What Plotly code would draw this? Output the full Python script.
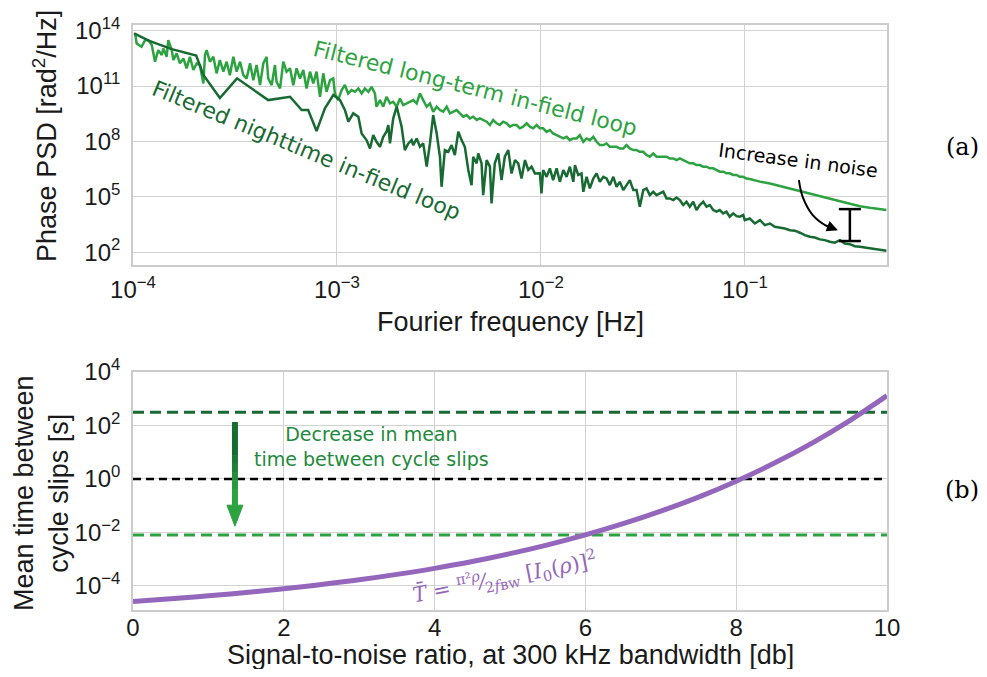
import plotly.graph_objects as go

# ---------------- data ----------------
# Panel (a): log10 of Fourier frequency [Hz] and log10 of phase PSD [rad^2/Hz]
longterm_log_freq = [
    -3.990, -3.982, -3.958, -3.941, -3.925, -3.908, -3.892, -3.876, -3.859, -3.851,
    -3.835, -3.827, -3.810, -3.802, -3.786, -3.770, -3.753, -3.737, -3.721, -3.704,
    -3.688, -3.672, -3.655, -3.647, -3.639, -3.623, -3.606, -3.590, -3.574, -3.557,
    -3.541, -3.525, -3.508, -3.492, -3.475, -3.459, -3.443, -3.426, -3.410, -3.394,
    -3.377, -3.361, -3.345, -3.337, -3.320, -3.304, -3.296, -3.279, -3.263, -3.247,
    -3.230, -3.214, -3.198, -3.181, -3.165, -3.149, -3.132, -3.116, -3.100, -3.083,
    -3.067, -3.051, -3.034, -3.018,
    -3.010, -2.994, -2.977, -2.961, -2.945, -2.928, -2.912, -2.895, -2.879, -2.863,
    -2.846, -2.830, -2.814, -2.806, -2.789, -2.773, -2.757, -2.740, -2.724, -2.707,
    -2.691, -2.675, -2.658, -2.642, -2.626, -2.609, -2.593, -2.577, -2.560, -2.544,
    -2.528, -2.511, -2.495, -2.479, -2.462, -2.446, -2.430, -2.413, -2.397, -2.381,
    -2.364, -2.348, -2.332, -2.315, -2.299, -2.283, -2.266, -2.250, -2.234, -2.217,
    -2.201, -2.185, -2.168, -2.152, -2.136, -2.119, -2.103, -2.087, -2.070, -2.054,
    -2.038, -2.021, -2.005,
    -1.989, -1.972, -1.956, -1.940, -1.923, -1.907, -1.890, -1.874, -1.858, -1.841,
    -1.825, -1.809, -1.792, -1.776, -1.760, -1.743, -1.727, -1.711, -1.694, -1.678,
    -1.662, -1.645, -1.629, -1.613, -1.596, -1.580, -1.564, -1.547, -1.531, -1.515,
    -1.498, -1.482, -1.466, -1.449, -1.433, -1.417, -1.400, -1.384, -1.368, -1.351,
    -1.335, -1.319, -1.302, -1.286, -1.270, -1.253, -1.237, -1.221, -1.204, -1.188,
    -1.172, -1.155, -1.139, -1.123, -1.106, -1.090, -1.074, -1.057, -1.041, -1.025,
    -1.008, -0.992, -0.976, -0.951,
    -0.926, -0.877, -0.828, -0.779, -0.730, -0.681, -0.632, -0.583, -0.534, -0.485,
    -0.436, -0.387, -0.338, -0.306,
]
longterm_log_psd = [
    13.86, 13.31, 13.13, 13.49, 13.49, 13.22, 12.32, 12.95, 12.68, 13.04,
    12.59, 13.49, 12.95, 12.41, 12.77, 12.23, 12.50, 11.96, 12.59, 11.87,
    12.23, 12.14, 11.14, 12.68, 12.95, 12.32, 12.59, 11.69, 12.41, 11.78,
    12.32, 11.59, 12.59, 11.78, 12.32, 11.59, 11.41, 12.23, 11.32, 12.14,
    11.05, 12.23, 12.59, 11.41, 11.05, 12.14, 11.23, 10.87, 12.32, 11.78,
    11.96, 11.05, 11.96, 11.41, 11.87, 10.87, 11.78, 11.14, 11.78, 10.42,
    11.69, 10.69, 11.32, 11.41,
    10.60, 10.24, 10.78, 11.06, 10.60, 10.78, 10.69, 10.87, 10.60, 10.87,
    10.69, 10.96, 10.60, 9.88, 10.24, 9.88, 10.42, 10.06, 10.15, 9.88,
    10.33, 9.97, 10.06, 10.15, 10.24, 10.06, 10.60, 10.24, 9.88, 10.06,
    9.61, 9.88, 9.70, 9.61, 9.88, 9.52, 9.61, 9.70, 9.52, 9.34,
    9.43, 9.25, 9.34, 9.16, 9.25, 9.16, 9.07, 8.89, 9.16, 8.98,
    8.89, 9.07, 8.98, 8.80, 8.89, 8.89, 8.71, 8.80, 8.98, 8.80,
    8.71, 8.89, 8.71,
    8.71, 8.52, 8.62, 8.43, 8.34, 8.25, 8.16, 8.25, 8.07, 8.16,
    8.16, 8.34, 7.98, 8.16, 8.07, 8.25, 7.98, 7.80, 7.80, 7.89,
    7.71, 7.71, 7.71, 7.62, 7.62, 7.80, 7.62, 7.53, 7.53, 7.44,
    7.44, 7.26, 7.17, 7.35, 7.17, 7.17, 7.17, 7.17, 7.08, 7.08,
    6.99, 7.08, 6.99, 6.90, 6.81, 6.81, 6.72, 6.72, 6.63, 6.63,
    6.54, 6.54, 6.45, 6.36, 6.36, 6.27, 6.27, 6.18, 6.18, 6.08,
    6.08, 5.99, 5.96, 5.87,
    5.82, 5.72, 5.58, 5.45, 5.32, 5.18, 5.04, 4.89, 4.73, 4.60,
    4.49, 4.40, 4.33, 4.28,
]

nighttime_log_freq = [
    -3.995, -3.920, -3.810, -3.690, -3.655, -3.574, -3.490, -3.418, -3.337, -3.230,
    -3.173, -3.141, -3.100, -3.059, -3.018,
    -2.985, -2.961, -2.944, -2.920, -2.895, -2.879, -2.855, -2.838, -2.822, -2.806,
    -2.789, -2.773, -2.757, -2.748, -2.740, -2.724, -2.707, -2.699, -2.683, -2.667,
    -2.650, -2.634, -2.626, -2.609, -2.593, -2.577, -2.560, -2.544, -2.528, -2.511,
    -2.495, -2.487, -2.471, -2.454, -2.438, -2.422, -2.405, -2.389, -2.373, -2.356,
    -2.340, -2.332, -2.315, -2.307, -2.291, -2.283, -2.266, -2.250, -2.242, -2.226,
    -2.209, -2.193, -2.177, -2.160, -2.144, -2.127, -2.111, -2.095, -2.078, -2.062,
    -2.046, -2.029,
    -2.005, -1.997, -1.989, -1.972, -1.956, -1.940, -1.923, -1.907, -1.890, -1.874,
    -1.858, -1.841, -1.833, -1.817, -1.801, -1.792, -1.776, -1.760, -1.743, -1.727,
    -1.711, -1.694, -1.678, -1.662, -1.645, -1.629, -1.613, -1.596, -1.580, -1.564,
    -1.547, -1.531, -1.515, -1.498, -1.482, -1.466, -1.449, -1.433, -1.417, -1.400,
    -1.384, -1.368, -1.351, -1.335, -1.319, -1.302, -1.286, -1.270, -1.253, -1.237,
    -1.221, -1.204, -1.188, -1.172, -1.155, -1.139, -1.123, -1.106, -1.090, -1.074,
    -1.057, -1.041, -1.025, -1.008,
    -1.000, -0.976, -0.951, -0.926, -0.902, -0.877, -0.853, -0.828, -0.804, -0.779,
    -0.755, -0.730, -0.706, -0.681, -0.657, -0.632, -0.608, -0.583, -0.559, -0.534,
    -0.510, -0.485, -0.461, -0.436, -0.412, -0.387, -0.363, -0.338, -0.306,
]
nighttime_log_psd = [
    13.86, 13.45, 13.00, 12.65, 11.60, 10.35, 11.42, 10.87, 10.24, 10.42,
    9.70, 9.70, 8.56, 9.79, 10.51,
    10.24, 9.70, 9.07, 9.52, 9.34, 8.43, 8.07, 7.62, 8.34, 7.98,
    7.71, 8.25, 8.53, 8.89, 7.89, 9.25, 9.88, 9.52, 8.80, 7.53,
    7.89, 8.07, 7.80, 8.16, 7.71, 7.89, 6.63, 7.89, 9.43, 8.43,
    7.17, 5.54, 7.53, 7.44, 7.80, 7.26, 8.53, 8.07, 7.71, 6.45,
    5.63, 7.17, 6.81, 7.35, 6.81, 5.09, 6.99, 6.63, 4.64, 6.81,
    7.35, 5.90, 7.17, 7.53, 6.26, 6.99, 6.81, 5.99, 6.99, 6.45,
    6.63, 6.26,
    6.27, 5.18, 6.45, 6.08, 6.54, 5.90, 6.54, 5.81, 6.45, 6.08,
    6.63, 5.81, 6.72, 6.18, 6.27, 5.27, 6.08, 5.45, 5.99, 6.27,
    5.81, 6.08, 5.99, 5.63, 6.08, 5.54, 5.81, 5.36, 5.63, 5.90,
    5.36, 5.36, 4.46, 5.36, 5.45, 5.09, 5.27, 5.09, 5.18, 5.27,
    4.91, 4.91, 4.82, 4.96, 4.82, 4.55, 4.73, 4.46, 4.73, 4.28,
    4.55, 4.73, 4.46, 4.55, 4.28, 4.19, 4.28, 4.10, 4.19, 3.92,
    4.10, 3.95, 3.92, 4.01,
    3.73, 3.82, 3.55, 3.73, 3.46, 3.55, 3.37, 3.34, 3.28, 3.19,
    3.16, 3.05, 2.92, 2.83, 2.79, 2.69, 2.65, 2.56, 2.51, 2.65,
    2.47, 2.43, 2.32, 2.29, 2.25, 2.20, 2.14, 2.11, 2.07,
]

# Panel (b): mean time between cycle slips vs SNR
snr_db = [0, 0.5, 1, 1.5, 2, 2.5, 3, 3.5, 4, 4.5, 5, 5.5, 6, 6.5, 7, 7.5, 8, 8.5, 9, 9.5, 10]
mean_time_s = [2.64e-5, 3.35e-5, 4.28e-5, 5.7e-5, 7.84e-5, 1.13e-4, 1.69e-4, 2.7e-4, 4.55e-4,
               8.2e-4, 1.61e-3, 3.44e-3, 8.07e-3, 2.12e-2, 6.26e-2, 0.210, 0.826, 3.84, 21.5, 149.0, 1304.0]
level_nighttime_s = 316.0     # dark green dashed
level_reference_s = 1.0       # black dashed
level_longterm_s = 0.008      # light green dashed

x_ticks_a = [1e-4, 1e-3, 1e-2, 1e-1]
x_ticktext_a = ["10<sup>−4</sup>", "10<sup>−3</sup>", "10<sup>−2</sup>", "10<sup>−1</sup>"]
y_ticks_a = [1e2, 1e5, 1e8, 1e11, 1e14]
y_ticktext_a = ["10<sup>2</sup>", "10<sup>5</sup>", "10<sup>8</sup>", "10<sup>11</sup>", "10<sup>14</sup>"]
x_ticks_b = [0, 2, 4, 6, 8, 10]
y_ticks_b = [1e-4, 1e-2, 1e0, 1e2, 1e4]
y_ticktext_b = ["10<sup>−4</sup>", "10<sup>−2</sup>", "10<sup>0</sup>", "10<sup>2</sup>", "10<sup>4</sup>"]

# ---------------- styles ----------------
LIGHT = "#2ca340"
DARK = "#176a32"
PURPLE = "#9467bd"
GRID = "#d2d2d2"
TXT = "#1a1a1a"
SANS = "Liberation Sans, Arial, sans-serif"
DJV = "DejaVu Sans, sans-serif"

fig = go.Figure()

# ---------------- panel (a) ----------------
fig.add_trace(go.Scatter(
    x=[10 ** v for v in longterm_log_freq], y=[10 ** v for v in longterm_log_psd],
    mode="lines", line=dict(color=LIGHT, width=2.5), xaxis="x", yaxis="y"))
fig.add_trace(go.Scatter(
    x=[10 ** v for v in nighttime_log_freq], y=[10 ** v for v in nighttime_log_psd],
    mode="lines", line=dict(color=DARK, width=2.5), xaxis="x", yaxis="y"))

# curved arrow ("Increase in noise") and I-bar -- decoration, in log10 units
arc_lf = [-0.735, -0.716, -0.667, -0.598, -0.552]
arc_lp = [5.90, 4.98, 4.01, 3.41, 3.22]
fig.add_trace(go.Scatter(
    x=[10 ** v for v in arc_lf], y=[10 ** v for v in arc_lp], mode="lines",
    line=dict(color="black", width=2, shape="spline"), xaxis="x", yaxis="y"))
ibar_x = [-0.539, -0.431, None, -0.485, -0.485, None, -0.539, -0.431]
ibar_y = [4.33, 4.33, None, 4.33, 2.60, None, 2.60, 2.60]
fig.add_trace(go.Scatter(
    x=[None if v is None else 10 ** v for v in ibar_x],
    y=[None if v is None else 10 ** v for v in ibar_y], mode="lines",
    line=dict(color="black", width=2.5), xaxis="x", yaxis="y"))

# ---------------- panel (b) ----------------
for lvl, col, w, dash in [(level_nighttime_s, DARK, 3, "11px,6px"),
                          (level_reference_s, "black", 2.5, "8px,5px"),
                          (level_longterm_s, LIGHT, 3, "11px,6px")]:
    fig.add_trace(go.Scatter(x=[snr_db[0], snr_db[-1]], y=[lvl, lvl], mode="lines",
                             line=dict(color=col, width=w, dash=dash), xaxis="x2", yaxis="y2"))

fig.add_trace(go.Scatter(x=snr_db, y=mean_time_s, mode="lines",
                         line=dict(color=PURPLE, width=5, shape="spline"), xaxis="x2", yaxis="y2"))

# gradient arrow (decoration)
arrow_x = 1.352
shaft_top, shaft_bot, tip = 2.13, -0.98, -1.765
n_seg = 10
def mix(c1, c2, t):
    a = [int(c1[i:i + 2], 16) for i in (1, 3, 5)]
    b = [int(c2[i:i + 2], 16) for i in (1, 3, 5)]
    return "rgb(%d,%d,%d)" % tuple(round(a[k] + (b[k] - a[k]) * t) for k in range(3))
for i in range(n_seg):
    y0 = shaft_top + (shaft_bot - shaft_top) * i / n_seg
    y1 = shaft_top + (shaft_bot - shaft_top) * (i + 1) / n_seg
    t = min(1.0, max(0.0, (i - 3) / 5))
    fig.add_trace(go.Scatter(x=[arrow_x, arrow_x], y=[10 ** y0, 10 ** (y1 - 0.02)], mode="lines",
                             line=dict(color=mix(DARK, LIGHT, t), width=6), xaxis="x2", yaxis="y2"))
fig.add_trace(go.Scatter(x=[arrow_x - 0.106, arrow_x + 0.106, arrow_x, arrow_x - 0.106],
                         y=[10 ** shaft_bot, 10 ** shaft_bot, 10 ** tip, 10 ** shaft_bot],
                         mode="lines", fill="toself", fillcolor=LIGHT,
                         line=dict(color=LIGHT, width=1), xaxis="x2", yaxis="y2"))

# ---------------- axes ----------------
common = dict(showgrid=True, gridcolor=GRID, gridwidth=1.3, showline=True, mirror=True,
              linecolor="#cccccc", linewidth=1.6, ticks="", zeroline=False, automargin=False,
              tickfont=dict(family=SANS, size=24, color=TXT))
# the page body adds an 8 px offset, so the figure is 16 px smaller than the window
fig.update_layout(
    width=971, height=661,
    margin=dict(l=125, r=92, t=17, b=59),
    paper_bgcolor="white", plot_bgcolor="white",
    showlegend=False, hovermode=False,
    xaxis=dict(domain=[0, 1], anchor="y", type="log", range=[-4, -0.303],
               tickvals=x_ticks_a, ticktext=x_ticktext_a, ticklabelstandoff=2, **common),
    yaxis=dict(domain=[0.5897, 1], anchor="x", type="log", range=[1.3, 14.31],
               tickvals=y_ticks_a, ticktext=y_ticktext_a, ticklabelstandoff=6, **common),
    xaxis2=dict(domain=[0, 1], anchor="y2", range=[0, 10], tickvals=x_ticks_b,
                ticklabelstandoff=-5, **common),
    yaxis2=dict(domain=[0, 0.4068], anchor="x2", type="log", range=[-4.9, 4.0],
                tickvals=y_ticks_b, ticktext=y_ticktext_b, ticklabelstandoff=6, **common),
)

ann = []
def T(text, x, y, size, color=TXT, family=SANS, angle=0, xref="paper", yref="paper"):
    ann.append(dict(text=text, x=x, y=y, xref=xref, yref=yref, showarrow=False,
                    textangle=angle, font=dict(family=family, size=size, color=color),
                    xanchor="center", yanchor="middle"))

# axis titles
T("Phase PSD [rad<sup>2</sup>/Hz]", -0.117, 0.81, 27, angle=-90)
T("Fourier frequency [Hz]", 0.5, 0.492, 27)
T("Mean time between<br>cycle slips [s]", -0.122, 0.2, 27, angle=-90)
T("Signal-to-noise ratio, at 300 kHz bandwidth [db]", 0.5, -0.077, 27)
T("(a)", 1.0995, 0.7915, 24, color="black", family="DejaVu Serif, serif")
T("(b)", 1.0995, 0.205, 24, color="black", family="DejaVu Serif, serif")

# in-plot labels (annotation x/y on log axes are log10 values)
T("Filtered long-term in-field loop", -2.319, 10.89, 22, color=LIGHT, family=DJV, angle=14,
  xref="x", yref="y")
T("Filtered nighttime in-field loop", -3.147, 7.53, 22, color=DARK, family=DJV, angle=22.4,
  xref="x", yref="y")
T("Increase in noise", -0.740, 6.99, 19, color="black", family=DJV, angle=7.5,
  xref="x", yref="y")
T("Decrease in mean<br>time between cycle slips", 3.16, 1.20, 19, color="#1e8a3c", family=DJV,
  xref="x2", yref="y2")
T("<i>T̄</i> = <sup>π²<i>ρ</i></sup>⁄<sub>2<i>f</i>ʙᴡ</sub> [<i>I</i><sub>0</sub>(<i>ρ</i>)]<sup>2</sup>",
  4.93, -3.67, 21, color=PURPLE, family="DejaVu Serif, serif", angle=-11, xref="x2", yref="y2")

# arrowhead of the curved arrow
ann.append(dict(x=-0.544, y=3.19, xref="x", yref="y", ax=-13, ay=-5, axref="pixel", ayref="pixel",
                showarrow=True, arrowhead=2, arrowsize=1.1, arrowwidth=2, arrowcolor="black", text=""))

fig.update_layout(annotations=ann)
fig.write_html("out.html")
